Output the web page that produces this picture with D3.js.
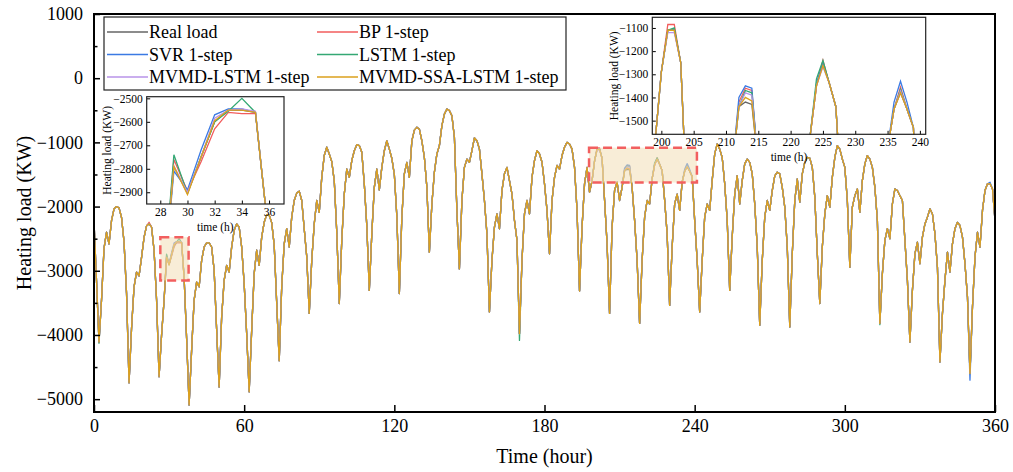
<!DOCTYPE html>
<html>
<head>
<meta charset="utf-8">
<script src="https://cdn.jsdelivr.net/npm/d3@7"></script>
<style>
  body { margin: 0; background: #fff; }
  svg { display: block; font-family: "Liberation Serif", "Times New Roman", serif; }
</style>
</head>
<body>
<div id="chart"></div>
<script>
// hourly heating load (hours 0..360)
const hours = d3.range(0, 361);
const realLoad = [
  -2230, -3150, -4110, -3460, -2650, -2400, -2580, -2220, -2035, -2000, -2020, -2170, -2550, -3350,
  -4745, -3900, -3250, -3020, -3080, -2790, -2480, -2300, -2270, -2320, -2680, -3450,
  -4650, -4000, -3460, -2790, -2905, -2750, -2600, -2550, -2550, -2560, -3100, -4050,
  -5090, -4240, -3460, -3175, -3250, -2840, -2630, -2565, -2565, -2630, -2990, -3920,
  -4810, -3720, -3150, -2915, -3020, -2630, -2370, -2270, -2320, -2630, -3200, -3980,
  -4885, -3925, -3045, -2680, -2915, -2475, -2245, -2125, -2135, -2250, -2600, -3500,
  -4400, -3250, -2580, -2345, -2630, -2165, -1905, -1790, -1760, -1905, -2350, -2780,
  -3665, -2840, -2270, -1905, -2090, -1545, -1205, -1075, -1180, -1300, -1600, -2400,
  -3510, -2525, -1805, -1415, -1545, -1285, -1130, -1035, -1050, -1155, -1650, -2300,
  -3305, -2425, -1700, -1415, -1740, -1390, -1130, -975, -1105, -1250, -1500, -2150,
  -3355, -2165, -1490, -1310, -1545, -975, -810, -765, -795, -975, -1235, -1700,
  -2710, -1960, -1465, -1180, -1050, -740, -560, -480, -505, -585, -920, -2060,
  -2970, -1905, -1390, -1260, -1310, -1130, -930, -975, -1105, -1490, -1905, -2425,
  -3640, -2840, -2320, -2115, -2345, -1750, -1490, -1390, -1595, -1805, -2215, -2525,
  -3980, -2840, -2115, -1905, -2115, -1545, -1285, -1130, -1180, -1310, -1645, -2060,
  -2735, -1905, -1545, -1360, -1415, -1205, -1075, -1000, -1025, -1105, -1390, -2060,
  -3315, -2320, -1645, -1390, -1775, -1600, -1290, -1110, -1110, -1250, -1900, -2580,
  -3665, -2320, -1750, -1620, -1905, -1700, -1440, -1420, -1430, -1700, -2215, -2840,
  -3820, -2840, -2165, -1905, -1960, -1570, -1350, -1255, -1340, -1440, -1900, -2425,
  -3540, -2630, -1960, -1805, -2060, -1620, -1450, -1380, -1450, -1530, -2215, -2840,
  -3640, -2840, -2165, -1960, -2060, -1595, -1180, -1025, -1105, -1235, -1645, -2215,
  -3305, -2475, -1805, -1520, -1960, -1595, -1335, -1260, -1310, -1490, -1960, -2630,
  -3850, -2840, -2165, -1905, -2060, -1750, -1520, -1465, -1490, -1700, -2010, -2630,
  -3875, -2735, -1905, -1570, -1930, -1490, -1310, -1235, -1245, -1390, -1855, -2735,
  -3510, -2630, -2115, -1830, -2010, -1545, -1235, -1050, -1105, -1260, -1390, -1905,
  -2945, -2010, -1830, -1725, -2090, -1595, -1335, -1205, -1260, -1390, -1700, -2215,
  -3820, -3045, -2525, -2345, -2500, -1960, -1725, -1750, -1830, -1905, -2525, -3150,
  -4110, -3305, -2735, -2555, -2890, -2475, -2270, -2165, -2035, -2115, -2425, -2945,
  -4420, -3665, -3150, -2710, -3020, -2580, -2345, -2245, -2295, -2475, -2890, -3410,
  -4600, -3565, -2785, -2400, -2630, -2060, -1750, -1645, -1645, -1725, -2215
];

// where each 1-step forecast visibly departs from the real load: [hour, kW difference]
const bpDiff = [[22, 25], [29, 30], [30, 10], [31, -20], [32, -30], [33, -10], [34, -15], [35, -5],
  [201, 25], [202, 25], [212, 20], [213, 60], [214, 60], [225, 15], [237, 25]];
const svrDiff = [[29, -20], [30, 15], [31, 30], [32, 30], [33, 5], [34, 5], [202, 5], [212, 40],
  [213, 70], [214, 70], [224, 10], [225, 5], [236, 30], [237, 50], [238, 30], [350, -105], [358, 25]];
const lstmDiff = [[2, -20], [29, 50], [33, -5], [34, 50], [170, -105], [202, 10], [213, 50],
  [214, 50], [224, 30], [225, 15], [237, 15], [314, -20]];
const mvmdLstmDiff = [[30, 5], [32, 15], [34, 5], [35, 5], [201, -10], [202, -10], [213, 40],
  [214, 40], [225, -13], [237, 8]];
const mvmdSsaLstmDiff = [[30, -5], [32, 5], [213, 20], [214, 15], [225, -7]];

const seriesNames = ["Real load", "BP 1-step", "SVR 1-step", "LSTM 1-step", "MVMD-LSTM 1-step", "MVMD-SSA-LSTM 1-step"];
const seriesColors = ["#666666", "#f25c5c", "#3b7ae3", "#34a874", "#b993e8", "#dba11c"];
const seriesDiffs = [[], bpDiff, svrDiff, lstmDiff, mvmdLstmDiff, mvmdSsaLstmDiff];

const xTicks = [0, 60, 120, 180, 240, 300, 360];
const yTicks = [-5000, -4000, -3000, -2000, -1000, 0, 1000];
const yMinorTicks = [-4500, -3500, -2500, -1500, -500, 500];

// zoomed windows [h0, h1, kW low, kW high]
const zoomWindows = [[26.5, 37.8, -3150, -2476], [197.8, 240.9, -1626, -1082]];

const series = seriesNames.map((name, i) => {
  const diff = new Map(seriesDiffs[i]);
  return { name, color: seriesColors[i], values: realLoad.map((v, h) => v + (diff.get(h) || 0)) };
});

const fmt = d3.format("d");

const W = 1013, H = 472;
const svg = d3.select("#chart").append("svg").attr("width", W).attr("height", H);
svg.append("rect").attr("width", W).attr("height", H).attr("fill", "#fff");

const x = d3.scaleLinear().domain([0, 360]).range([94, 995]);
const y = d3.scaleLinear().domain([-5200, 1000]).range([412, 14]);

const defs = svg.append("defs");
defs.append("clipPath").attr("id", "clipMain")
  .append("rect").attr("x", 94).attr("y", 14).attr("width", 901).attr("height", 398);

const lineMain = d3.line().x((d, i) => x(hours[i])).y(d => y(d));

svg.append("g").attr("clip-path", "url(#clipMain)")
  .selectAll("path").data(series).join("path")
    .attr("d", d => lineMain(d.values))
    .attr("fill", "none")
    .attr("stroke", d => d.color)
    .attr("stroke-width", 1.3)
    .attr("stroke-linejoin", "round");

// highlighted windows
svg.append("g").selectAll("rect").data(zoomWindows).join("rect")
  .attr("x", d => x(d[0])).attr("y", d => y(d[3]))
  .attr("width", d => x(d[1]) - x(d[0])).attr("height", d => y(d[2]) - y(d[3]))
  .attr("fill", "#f3dfb6").attr("fill-opacity", 0.55)
  .attr("stroke", "#f25f5f").attr("stroke-width", 2.5)
  .attr("stroke-dasharray", "9,5");

// axes
function styleAxis(g, size) {
  g.select(".domain").remove();
  g.attr("font-family", null).attr("font-size", size);
  g.selectAll(".tick line").attr("stroke", "#000").attr("stroke-width", 1.5);
  g.selectAll(".tick text").attr("fill", "#000");
}

svg.append("g").attr("transform", "translate(0,412)")
  .call(d3.axisBottom(x).tickValues(xTicks).tickSize(-7).tickPadding(7).tickFormat(fmt))
  .call(g => styleAxis(g, 18));

svg.append("g").attr("transform", "translate(94,0)")
  .call(d3.axisLeft(y).tickValues(yTicks).tickSize(-6).tickPadding(11).tickFormat(fmt))
  .call(g => styleAxis(g, 18));

svg.append("g").attr("transform", "translate(94,0)")
  .call(d3.axisLeft(y).tickValues(yMinorTicks).tickSize(-3.5).tickFormat(""))
  .call(g => styleAxis(g, 18));

svg.append("rect").attr("x", 94).attr("y", 14).attr("width", 901).attr("height", 398)
  .attr("fill", "none").attr("stroke", "#000").attr("stroke-width", 2);

svg.append("text").attr("transform", "translate(24,213) rotate(-90)")
  .attr("text-anchor", "middle").attr("dominant-baseline", "central")
  .attr("font-size", 20).text("Heating load (KW)");

svg.append("text").attr("x", 544.5).attr("y", 463)
  .attr("text-anchor", "middle").attr("font-size", 20).text("Time (hour)");

// legend
const legend = svg.append("g");
legend.append("rect").attr("x", 104).attr("y", 17).attr("width", 462).attr("height", 73)
  .attr("fill", "#fff").attr("stroke", "#222").attr("stroke-width", 1.2);
const legendItems = legend.selectAll("g").data(series).join("g")
  .attr("transform", (d, i) => `translate(${i % 2 ? 317 : 107},${32 + Math.floor(i / 2) * 22.5})`);
legendItems.append("line").attr("x1", 0).attr("x2", 41)
  .attr("stroke", d => d.color).attr("stroke-width", 1.3);
legendItems.append("text").attr("x", 42).attr("dy", "0.35em")
  .attr("font-size", 18).text(d => d.name);

// insets
function drawInset(cfg) {
  const g = svg.append("g");
  const ix = d3.scaleLinear().domain(cfg.xDomain).range([cfg.left, cfg.right]);
  const iy = d3.scaleLinear().domain(cfg.yDomain).range([cfg.bottom, cfg.top]);
  const id = "clip" + cfg.name;
  defs.append("clipPath").attr("id", id).append("rect")
    .attr("x", cfg.left).attr("y", cfg.top)
    .attr("width", cfg.right - cfg.left).attr("height", cfg.bottom - cfg.top);
  g.append("rect").attr("x", cfg.left).attr("y", cfg.top)
    .attr("width", cfg.right - cfg.left).attr("height", cfg.bottom - cfg.top).attr("fill", "#fff");
  const line = d3.line().x(d => ix(d[0])).y(d => iy(d[1]));
  g.append("g").attr("clip-path", `url(#${id})`)
    .selectAll("path").data(series).join("path")
      .attr("d", d => line(hours.map((h, i) => [h, d.values[i]])
        .filter(p => p[0] >= cfg.xDomain[0] - 1 && p[0] <= cfg.xDomain[1] + 1)))
      .attr("fill", "none").attr("stroke", d => d.color).attr("stroke-width", 1.3);
  g.append("g").attr("transform", `translate(0,${cfg.bottom})`)
    .call(d3.axisBottom(ix).tickValues(cfg.xTicks).tickSize(-3.5).tickPadding(4).tickFormat(fmt))
    .call(a => styleAxis(a, 11.5));
  g.append("g").attr("transform", `translate(${cfg.left},0)`)
    .call(d3.axisLeft(iy).tickValues(cfg.yTicks).tickSize(-3.5).tickPadding(4).tickFormat(fmt))
    .call(a => styleAxis(a, 11.5));
  g.selectAll(".tick line").attr("stroke-width", 1);
  g.append("rect").attr("x", cfg.left).attr("y", cfg.top)
    .attr("width", cfg.right - cfg.left).attr("height", cfg.bottom - cfg.top)
    .attr("fill", "none").attr("stroke", "#222").attr("stroke-width", 1.2);
  g.append("text").attr("transform", `translate(${cfg.yTitleX},${(cfg.top + cfg.bottom) / 2}) rotate(-90)`)
    .attr("text-anchor", "middle").attr("dominant-baseline", "central")
    .attr("font-size", 11.5).text("Heating load (KW)");
  g.append("text").attr("x", (cfg.left + cfg.right) / 2).attr("y", cfg.bottom + 27)
    .attr("text-anchor", "middle").attr("font-size", 11.5).text("time (h)");
}

drawInset({
  name: "A", left: 146.7, right: 284, top: 96.7, bottom: 204,
  xDomain: [27, 37.1], yDomain: [-2950, -2493],
  xTicks: [28, 30, 32, 34, 36], yTicks: [-2900, -2800, -2700, -2600, -2500], yTitleX: 107
});
drawInset({
  name: "B", left: 652.3, right: 925.7, top: 17.3, bottom: 134.3,
  xDomain: [198.6, 240.9], yDomain: [-1559, -1054],
  xTicks: [200, 205, 210, 215, 220, 225, 230, 235, 240], yTicks: [-1500, -1400, -1300, -1200, -1100], yTitleX: 614
});
</script>
</body>
</html>
